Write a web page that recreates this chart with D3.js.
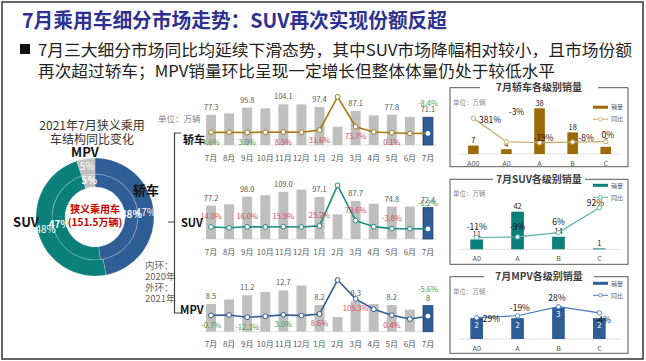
<!DOCTYPE html>
<html>
<head>
<meta charset="utf-8">
<script src="https://cdn.jsdelivr.net/npm/d3@7"></script>
<style>
  body { margin: 0; background: #fff; }
  svg { display: block; font-family: "Noto Sans CJK SC", "Noto Sans", sans-serif; }
</style>
</head>
<body>
<svg id="chart" width="646" height="361"></svg>
<script>
// ---- data ----
const months = ['7月', '8月', '9月', '10月', '11月', '12月', '1月', '2月', '3月', '4月', '5月', '6月', '7月'];

// 销量 (万辆) and 同比 (%)
const sedanSales = [77.3, 81.0, 95.8, 94.0, 104.1, 104.0, 97.4, 47.0, 87.1, 76.0, 77.8, 72.0, 71.1];
const sedanYoy   = [4.6, 4.5, 3.0, 5.0, 8.5, 6.0, 31.6, 440, 73.7, 9.0, 0.1, -9.0, -8.4];
const suvSales   = [77.2, 80.0, 98.0, 101.0, 109.0, 114.0, 97.1, 57.0, 87.7, 81.5, 74.8, 75.0, 72.4];
const suvYoy     = [14.0, 5.0, 16.0, 14.0, 15.9, 14.0, 25.2, 445, 79.6, 17.0, -3.8, -5.0, -6.2];
const mpvSales   = [8.5, 9.9, 11.2, 12.2, 12.7, 14.2, 8.2, 4.5, 9.3, 8.5, 8.2, 6.8, 8.0];
const mpvYoy     = [-0.7, 2.0, -12.3, -6.0, 3.0, -2.0, 8.6, 227, 105.3, 39.0, 0.4, -24.0, -5.6];

// donut: 内环 2020, 外环 2021
const shareCats  = ['轿车', 'SUV', 'MPV'];
const share2020  = [48, 47, 5];
const share2021  = [47, 48, 5];

// 各级别销量
const sedanLevels = ['A00', 'A0', 'A', 'B', 'C'];
const sedanLevelSales = [7, 4, 38, 18, 6];
const sedanLevelYoy   = [381, -3, -19, -8, 0];
const suvLevels = ['A0', 'A', 'B', 'C'];
const suvLevelSales = [11, 42, 14, 1];
const suvLevelYoy   = [-11, -9, 6, 92];
const mpvLevels = ['A0', 'A', 'B', 'C'];
const mpvLevelSales = [2, 2, 3, 2];
const mpvLevelYoy   = [-29, -19, 28, -4];

// ---- drawing ----
const svg = d3.select('#chart');
const BLUE = '#2E5E95', TEAL = '#0B7F7A', GOLD = '#9E6A06', GRAY_BAR = '#BFBFBF';
const GREEN = '#4B9B3A', RED = '#D94B4B';

// frame
svg.append('rect')
    .attr('x', 2).attr('y', 2).attr('width', 641).attr('height', 357)
    .attr('fill', 'none').attr('stroke', '#333').attr('stroke-width', 1.5);

// title + bullet text
svg.append('text')
    .attr('x', 22).attr('y', 28)
    .attr('font-size', 20).attr('font-weight', 'bold').attr('fill', '#2E3192')
    .attr('textLength', 425).attr('lengthAdjust', 'spacingAndGlyphs')
    .text('7月乘用车细分市场走势：SUV再次实现份额反超');

svg.append('rect').attr('x', 20).attr('y', 44).attr('width', 10).attr('height', 10).attr('fill', '#111');
svg.append('text')
    .attr('x', 38).attr('y', 56).attr('font-size', 16).attr('fill', '#222')
    .attr('textLength', 594).attr('lengthAdjust', 'spacingAndGlyphs')
    .text('7月三大细分市场同比均延续下滑态势，其中SUV市场降幅相对较小，且市场份额');
svg.append('text')
    .attr('x', 38).attr('y', 77).attr('font-size', 16).attr('fill', '#222')
    .attr('textLength', 517).attr('lengthAdjust', 'spacingAndGlyphs')
    .text('再次超过轿车；MPV销量环比呈现一定增长但整体体量仍处于较低水平');

// ---- donut ----
function drawDonut() {
    const cx = 95, cy = 217;
    const colors = d3.scaleOrdinal().domain(shareCats).range([BLUE, TEAL, GRAY_BAR]);
    const pie = d3.pie().sort(null).value(d => d.v);
    const rings = [
        {data: share2020, inner: 30, outer: 43, bold: true},
        {data: share2021, inner: 43, outer: 59, bold: false}
    ];
    const g = svg.append('g').attr('transform', `translate(${cx},${cy})`);
    const slices = g.append('g');
    const labels = g.append('g');

    rings.forEach(ring => {
        const arc = d3.arc().innerRadius(ring.inner).outerRadius(ring.outer);
        const arcs = pie(ring.data.map((v, i) => ({v: v, c: shareCats[i]})));
        slices.append('g').selectAll('path').data(arcs).join('path')
            .attr('d', arc)
            .attr('fill', d => colors(d.data.c))
            .attr('stroke', 'rgba(255,255,255,0.35)')
            .attr('stroke-width', 0.6);
        labels.append('g').selectAll('text').data(arcs).join('text')
            .attr('x', d => arc.centroid(d)[0])
            .attr('y', d => arc.centroid(d)[1] + 3.5)
            .attr('text-anchor', 'middle')
            .attr('font-size', 10)
            .attr('font-weight', ring.bold ? 'bold' : 'normal')
            .attr('fill', '#fff')
            .text(d => d.data.v + '%');
    });

    g.append('text').attr('y', -4).attr('text-anchor', 'middle')
        .attr('font-size', 10).attr('font-weight', 'bold').attr('fill', '#C00000')
        .text('狭义乘用车');
    g.append('text').attr('y', 9).attr('text-anchor', 'middle')
        .attr('font-size', 10).attr('font-weight', 'bold').attr('fill', '#C00000')
        .text('(151.5万辆)');

    // donut titles and labels
    const title = ['2021年7月狭义乘用', '车结构同比变化'];
    svg.append('g').selectAll('text').data(title).join('text')
        .attr('x', 92).attr('y', (d, i) => 130 + i * 14)
        .attr('text-anchor', 'middle').attr('font-size', 12).attr('fill', '#333')
        .text(d => d);

    const catLabels = [
        {t: '轿车', x: 146, y: 195},
        {t: 'SUV', x: 26, y: 227},
        {t: 'MPV', x: 85, y: 157}
    ];
    svg.append('g').selectAll('text').data(catLabels).join('text')
        .attr('x', d => d.x).attr('y', d => d.y)
        .attr('text-anchor', 'middle').attr('font-size', 13).attr('font-weight', 'bold').attr('fill', '#111')
        .text(d => d.t);

    const note = ['内环：', '2020年', '外环：', '2021年'];
    svg.append('g').selectAll('text').data(note).join('text')
        .attr('x', 145).attr('y', (d, i) => 269 + i * 11)
        .attr('font-size', 9.5).attr('fill', '#666')
        .text(d => d);

    svg.append('text').attr('x', 158).attr('y', 122)
        .attr('font-size', 8.5).attr('fill', '#7F7F7F').text('单位：万辆');

    // bracket
    svg.append('path')
        .attr('d', 'M181,133 H174.5 V313 H181 M174.5,222 H168')
        .attr('fill', 'none').attr('stroke', '#444').attr('stroke-width', 1.2);
}

// ---- monthly trend charts ----
function drawTrend(cfg) {
    const g = svg.append('g');
    const last = months.length - 1;
    const x = d3.scaleBand().domain(d3.range(months.length))
        .range([202, 437]).paddingInner(0.45).paddingOuter(0.225);
    const bw = x.bandwidth();
    const y = d3.scaleLinear().domain([0, cfg.barMax]).range([cfg.base, cfg.barTop]);
    const yl = d3.scaleLinear().domain(cfg.lineDomain).range(cfg.lineRange);

    g.append('line').attr('x1', 202).attr('x2', 437).attr('y1', cfg.base).attr('y2', cfg.base)
        .attr('stroke', '#D9D9D9').attr('stroke-width', 0.8);

    g.selectAll('rect.bar').data(cfg.sales).join('rect')
        .attr('class', 'bar')
        .attr('x', (d, i) => x(i)).attr('y', d => y(d))
        .attr('width', bw).attr('height', d => cfg.base - y(d))
        .attr('fill', (d, i) => i === last ? BLUE : GRAY_BAR)
        .attr('stroke', (d, i) => i === last ? '#1F3F66' : 'none')
        .attr('stroke-width', 0.8);

    const axis = g.append('g').attr('transform', `translate(0,${cfg.base})`)
        .call(d3.axisBottom(x).tickSize(0).tickPadding(10).tickFormat(i => months[i]));
    axis.select('.domain').remove();
    axis.selectAll('text').attr('font-size', 8).attr('fill', '#595959')
        .attr('font-family', '"Noto Sans CJK SC", sans-serif');

    const line = d3.line().x((d, i) => x(i) + bw / 2).y(d => yl(d));
    g.append('path').datum(cfg.yoy).attr('d', line)
        .attr('fill', 'none').attr('stroke', cfg.lineColor).attr('stroke-width', 1.6);
    g.selectAll('circle').data(cfg.yoy).join('circle')
        .attr('cx', (d, i) => x(i) + bw / 2).attr('cy', d => yl(d)).attr('r', 2.4)
        .attr('fill', '#fff').attr('stroke', (d, i) => i === last ? 'none' : cfg.lineColor)
        .attr('stroke-width', 1);

    // labels on every other month
    const shown = d3.range(0, months.length, 2);
    g.selectAll('text.val').data(shown).join('text')
        .attr('class', 'val')
        .attr('x', i => x(i) + bw / 2).attr('y', i => y(cfg.sales[i]) - 5)
        .attr('text-anchor', 'middle').attr('font-size', 7.5).attr('fill', '#595959')
        .text(i => cfg.fmt(cfg.sales[i]));
    g.selectAll('text.pct').data(shown).join('text')
        .attr('class', 'pct')
        .attr('x', i => x(i) + bw / 2)
        .attr('y', i => i === last ? y(cfg.sales[i]) + cfg.lastPctDy : yl(cfg.yoy[i]) + cfg.pctDy)
        .attr('text-anchor', 'middle').attr('font-size', 7.5)
        .attr('fill', (i, k) => cfg.tone[k] === 'g' ? GREEN : RED)
        .text(i => cfg.yoy[i].toFixed(1) + '%');

    svg.append('text').attr('x', cfg.labelX).attr('y', cfg.labelY)
        .attr('font-size', 11).attr('font-weight', 'bold').attr('fill', '#111')
        .text(cfg.name);
}

// ---- level panels ----
function drawLevels(cfg) {
    const g = svg.append('g');
    const x = d3.scaleBand().domain(cfg.cats).range(cfg.xRange)
        .paddingInner(cfg.pad).paddingOuter(cfg.pad / 2);
    const bw = x.bandwidth();
    const y = d3.scaleLinear().domain([0, d3.max(cfg.sales)]).range([cfg.base, cfg.barTop]);
    const yl = d3.scaleLinear().domain(d3.extent(cfg.yoy)).range(cfg.lineRange);

    // box with title gap
    g.append('rect').attr('x', 450).attr('y', cfg.boxY).attr('width', 178).attr('height', cfg.boxH)
        .attr('fill', 'none').attr('stroke', '#595959').attr('stroke-width', 1);
    g.append('rect').attr('x', 539 - cfg.gap / 2).attr('y', cfg.boxY - 6).attr('width', cfg.gap).attr('height', 12)
        .attr('fill', '#fff');
    g.append('text').attr('x', 539).attr('y', cfg.boxY + 3.5).attr('text-anchor', 'middle')
        .attr('font-size', 10).attr('font-weight', 'bold').attr('fill', '#404040')
        .text(cfg.title);
    g.append('text').attr('x', 453).attr('y', cfg.boxY + 17).attr('font-size', 6.5).attr('fill', '#8C8C8C')
        .text('单位：万辆');

    g.append('line').attr('x1', 458).attr('x2', 622).attr('y1', cfg.base).attr('y2', cfg.base)
        .attr('stroke', '#D9D9D9').attr('stroke-width', 0.8);

    g.selectAll('rect.bar').data(cfg.sales).join('rect')
        .attr('class', 'bar')
        .attr('x', (d, i) => x(cfg.cats[i])).attr('y', d => y(d))
        .attr('width', bw).attr('height', d => cfg.base - y(d))
        .attr('fill', cfg.barColor);

    const axis = g.append('g').attr('transform', `translate(0,${cfg.base})`)
        .call(d3.axisBottom(x).tickSize(0).tickPadding(7));
    axis.select('.domain').remove();
    axis.selectAll('text').attr('font-size', 7).attr('fill', '#595959')
        .attr('font-family', '"Noto Sans", sans-serif');

    g.selectAll('text.val').data(cfg.sales).join('text')
        .attr('class', 'val')
        .attr('x', (d, i) => x(cfg.cats[i]) + bw / 2)
        .attr('y', d => cfg.inside ? y(d) + 9.5 : y(d) - 2.5)
        .attr('text-anchor', 'middle').attr('font-size', 7.5)
        .attr('fill', cfg.inside ? '#fff' : '#222')
        .text(d => d);

    const line = d3.line().x((d, i) => x(cfg.cats[i]) + bw / 2).y(d => yl(d));
    g.append('path').datum(cfg.yoy).attr('d', line)
        .attr('fill', 'none').attr('stroke', cfg.lineColor).attr('stroke-width', 1.2);
    g.selectAll('circle').data(cfg.yoy).join('circle')
        .attr('cx', (d, i) => x(cfg.cats[i]) + bw / 2).attr('cy', d => yl(d)).attr('r', 2.2)
        .attr('fill', '#fff').attr('stroke', cfg.lineColor).attr('stroke-width', 0.9);

    g.selectAll('text.pct').data(cfg.yoy).join('text')
        .attr('class', 'pct')
        .attr('x', (d, i) => x(cfg.cats[i]) + bw / 2 + cfg.pctOff[i][0])
        .attr('y', (d, i) => yl(d) + cfg.pctOff[i][1] + 3)
        .attr('text-anchor', 'middle').attr('font-size', 8.5).attr('fill', '#111')
        .text(d => d + '%');

    // legend
    const lx = 593, ly = cfg.boxY + cfg.legendDy;
    g.append('line').attr('x1', lx).attr('x2', lx + 15).attr('y1', ly).attr('y2', ly)
        .attr('stroke', cfg.barColor).attr('stroke-width', 3);
    g.append('text').attr('x', lx + 18).attr('y', ly + 2.2).attr('font-size', 6).attr('fill', '#595959').text('销量');
    g.append('line').attr('x1', lx).attr('x2', lx + 15).attr('y1', ly + 12).attr('y2', ly + 12)
        .attr('stroke', cfg.lineColor).attr('stroke-width', 1);
    g.append('circle').attr('cx', lx + 7.5).attr('cy', ly + 12).attr('r', 1.8)
        .attr('fill', '#fff').attr('stroke', cfg.lineColor).attr('stroke-width', 0.8);
    g.append('text').attr('x', lx + 18).attr('y', ly + 14.2).attr('font-size', 6).attr('fill', '#595959').text('同比');
}

drawDonut();

drawTrend({
    name: '轿车', labelX: 183, labelY: 144,
    sales: sedanSales, yoy: sedanYoy, fmt: d => d,
    base: 145, barMax: 104.1, barTop: 104.4,
    lineDomain: [0, 440], lineRange: [132.7, 96.9],
    lineColor: '#A67C13', pctDy: 12.5, lastPctDy: -11.5,
    tone: ['g', 'g', 'r', 'r', 'r', 'r', 'g']
});
drawTrend({
    name: 'SUV', labelX: 181, labelY: 227,
    sales: suvSales, yoy: suvYoy, fmt: d3.format('.1f'),
    base: 239, barMax: 109, barTop: 191.8,
    lineDomain: [0, 445], lineRange: [228.3, 185.3],
    lineColor: '#1F8C87', pctDy: -7.5, lastPctDy: -1.5,
    tone: ['r', 'r', 'r', 'r', 'r', 'r', 'g']
});
drawTrend({
    name: 'MPV', labelX: 180, labelY: 314,
    sales: mpvSales, yoy: mpvYoy, fmt: d => d,
    base: 331.7, barMax: 12.7, barTop: 290.4,
    lineDomain: [0, 227], lineRange: [315.3, 280],
    lineColor: '#2F5E95', pctDy: 12.5, lastPctDy: -13.7,
    tone: ['g', 'g', 'g', 'r', 'r', 'r', 'g']
});

drawLevels({
    title: '7月轿车各级别销量', cats: sedanLevels, sales: sedanLevelSales, yoy: sedanLevelYoy,
    boxY: 87.7, boxH: 79, gap: 118, legendDy: 19.5,
    xRange: [456.8, 622.3], pad: 0.68,
    base: 154, barTop: 108.3, lineRange: [142.7, 118.3],
    barColor: GOLD, lineColor: '#C9A76B', inside: false,
    pctOff: [[16.7, 1.7], [10, -30], [4, -5], [13.4, -4.4], [2, -6.5]]
});
drawLevels({
    title: '7月SUV各级别销量', cats: suvLevels, sales: suvLevelSales, yoy: suvLevelYoy,
    boxY: 179.3, boxH: 85, gap: 92, legendDy: 6,
    xRange: [456.2, 619.8], pad: 0.69,
    base: 249.3, barTop: 211.7, lineRange: [237.5, 207.7],
    barColor: TEAL, lineColor: '#5BAFA9', inside: false,
    pctOff: [[0, -10.8], [0, -10.2], [0, -11], [-4, -4.4]]
});
drawLevels({
    title: '7月MPV各级别销量', cats: mpvLevels, sales: mpvLevelSales, yoy: mpvLevelYoy,
    boxY: 276.7, boxH: 76.6, gap: 110, legendDy: 6.6,
    xRange: [456.2, 619.8], pad: 0.69,
    base: 339, barTop: 307.7, lineRange: [317.7, 306.7],
    barColor: BLUE, lineColor: '#4A78B8', inside: true,
    pctOff: [[13.3, 1.3], [2.3, -8], [-1.6, -8.4], [3.7, 7.5]]
});
</script>
</body>
</html>
